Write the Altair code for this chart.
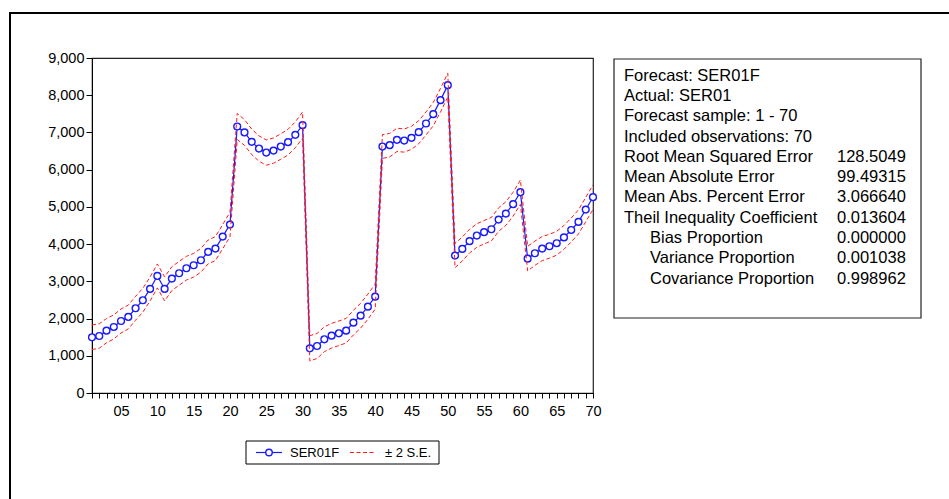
import altair as alt
import pandas as pd

# ---- data ----
obs = list(range(1, 71))
forecast = [1497, 1532, 1675, 1774, 1935, 2043, 2276, 2491, 2796, 3145,
            2796, 3073, 3217, 3352, 3432, 3567, 3790, 3880, 4202, 4524,
            7159, 7000, 6747, 6567, 6460, 6513, 6621, 6739, 6935, 7196,
            1200, 1263, 1443, 1540, 1604, 1675, 1890, 2078, 2320, 2589,
            6621, 6658, 6801, 6782, 6855, 7008, 7240, 7492, 7868, 8271,
            3691, 3871, 4080, 4230, 4320, 4400, 4659, 4820, 5072, 5395,
            3610, 3755, 3880, 3943, 4024, 4180, 4380, 4597, 4928, 5260]
two_se = [330, 328, 326, 324, 322, 321, 320, 320, 321, 322,
          322, 320, 319, 318, 318, 319, 320, 322, 325, 330,
          350, 345, 342, 340, 340, 340, 342, 345, 348, 352,
          340, 336, 333, 331, 330, 330, 331, 333, 336, 340,
          320, 316, 313, 311, 310, 310, 311, 313, 316, 320,
          325, 321, 318, 316, 315, 315, 316, 318, 321, 325,
          330, 326, 323, 321, 320, 320, 321, 323, 326, 330]
y_ticks = [0, 1000, 2000, 3000, 4000, 5000, 6000, 7000, 8000, 9000]

stat_labels = ["Forecast: SER01F", "Actual: SER01", "Forecast sample: 1 - 70",
               "Included observations: 70", "Root Mean Squared Error",
               "Mean Absolute Error", "Mean Abs. Percent Error",
               "Theil Inequality Coefficient", "Bias Proportion",
               "Variance Proportion", "Covariance Proportion"]
stat_indent = [0, 0, 0, 0, 0, 0, 0, 0, 1, 1, 1]
stat_values = ["", "", "", "", "128.5049", "99.49315", "3.066640",
               "0.013604", "0.000000", "0.001038", "0.998962"]
legend_labels = ["SER01F", "\u00b1 2 S.E."]

df = pd.DataFrame({
    "obs": obs,
    "forecast": forecast,
    "upper": [f + s for f, s in zip(forecast, two_se)],
    "lower": [f - s for f, s in zip(forecast, two_se)],
})

FONT = "Liberation Sans"
BLUE = "#1a1aff"
RED = "#ff1a1a"

x_enc = alt.X("obs:Q",
              scale=alt.Scale(domain=[1, 70], nice=False, zero=False),
              axis=alt.Axis(values=obs, tickCount=200, title=None, grid=False,
                            labelExpr="datum.value % 5 == 0 ? (datum.value < 10 ? '0' + datum.value : '' + datum.value) : ''",
                            labelOverlap=False, labelFlush=False,
                            tickSize=5, labelPadding=6, labelFontSize=14.5,
                            labelFont=FONT, labelColor="black",
                            domainColor="black", tickColor="black"))
y_axis = alt.Axis(values=y_ticks, tickCount=50, format=",d", title=None, grid=False,
                  labelOverlap=False,
                  tickSize=6, labelPadding=2, labelFontSize=14.5,
                  labelFont=FONT, labelColor="black",
                  domainColor="black", tickColor="black")
y_scale = alt.Scale(domain=[0, 9000], nice=False)

base = alt.Chart(df)
fc_line = base.mark_line(color=BLUE, strokeWidth=1.2).encode(
    x=x_enc, y=alt.Y("forecast:Q", scale=y_scale, axis=y_axis))
fc_pts = base.mark_point(shape="circle", size=46, filled=True, fill="white",
                         stroke=BLUE, strokeWidth=1.4, opacity=1).encode(
    x="obs:Q", y="forecast:Q")
up_line = base.mark_line(color=RED, strokeWidth=1, strokeDash=[4, 2.5]).encode(
    x="obs:Q", y="upper:Q")
lo_line = base.mark_line(color=RED, strokeWidth=1, strokeDash=[4, 2.5]).encode(
    x="obs:Q", y="lower:Q")

one = alt.Data(values=[{"k": 1}])

# outer frame (cropped on right and bottom)
frame_top = alt.Chart(one).mark_rule(color="black", strokeWidth=2).encode(
    x=alt.value(-83), x2=alt.value(870), y=alt.value(-45))
frame_left = alt.Chart(one).mark_rule(color="black", strokeWidth=2).encode(
    x=alt.value(-82), y=alt.value(-46), y2=alt.value(445))

# statistics box
LH = 20.3
Y0 = 22.7
main_lines = [s for s, i in zip(stat_labels, stat_indent) if i == 0]
ind_lines = [s for s, i in zip(stat_labels, stat_indent) if i == 1]
val_lines = [v for v in stat_values if v]
n_blank = len(stat_values) - len(val_lines)

stat_box = alt.Chart(one).mark_rect(fill="white", stroke="#222", strokeWidth=1.2).encode(
    x=alt.value(522), x2=alt.value(829), y=alt.value(1), y2=alt.value(260))


def text_block(lines, x, y):
    return alt.Chart(one).mark_text(align="left", baseline="alphabetic", font=FONT,
                                    fontSize=16.5, lineBreak="\n", lineHeight=LH,
                                    color="black").encode(
        x=alt.value(x), y=alt.value(y), text=alt.value("\n".join(lines)))


stat_main = text_block(main_lines, 532, Y0)
stat_ind = text_block(ind_lines, 558, Y0 + len(main_lines) * LH)
stat_val = text_block(val_lines, 745, Y0 + n_blank * LH)

# legend
leg_box = alt.Chart(one).mark_rect(fill="white", stroke="black", strokeWidth=1).encode(
    x=alt.value(154), x2=alt.value(347), y=alt.value(383), y2=alt.value(406))
leg_blue = alt.Chart(one).mark_rule(color=BLUE, strokeWidth=1.2).encode(
    x=alt.value(164), x2=alt.value(190), y=alt.value(394.5))
leg_pt = alt.Chart(one).mark_point(shape="circle", size=42, filled=True, fill="white",
                                   stroke=BLUE, strokeWidth=1.4, opacity=1).encode(
    x=alt.value(177), y=alt.value(394.5))
leg_red = alt.Chart(one).mark_rule(color=RED, strokeWidth=1, strokeDash=[4, 2.5]).encode(
    x=alt.value(258), x2=alt.value(284), y=alt.value(394.5))
leg_t1 = alt.Chart(one).mark_text(align="left", baseline="middle", font=FONT,
                                   fontSize=13, color="black").encode(
    x=alt.value(198), y=alt.value(395), text=alt.value(legend_labels[0]))
leg_t2 = alt.Chart(one).mark_text(align="left", baseline="middle", font=FONT,
                                   fontSize=13, color="black").encode(
    x=alt.value(293), y=alt.value(395), text=alt.value(legend_labels[1]))

chart = alt.layer(
    fc_line, fc_pts, up_line, lo_line,
    frame_top, frame_left, stat_box, stat_main, stat_ind, stat_val,
    leg_box, leg_blue, leg_pt, leg_red, leg_t1, leg_t2,
).properties(
    width=501, height=335,
    padding={"left": 92, "top": 58, "right": 356, "bottom": 106},
    autosize=alt.AutoSizeParams(type="none"),
    background="white",
).configure_view(stroke="#222", strokeWidth=1.2)

chart.save("out.html", embed_options={"renderer": "svg", "actions": False})
